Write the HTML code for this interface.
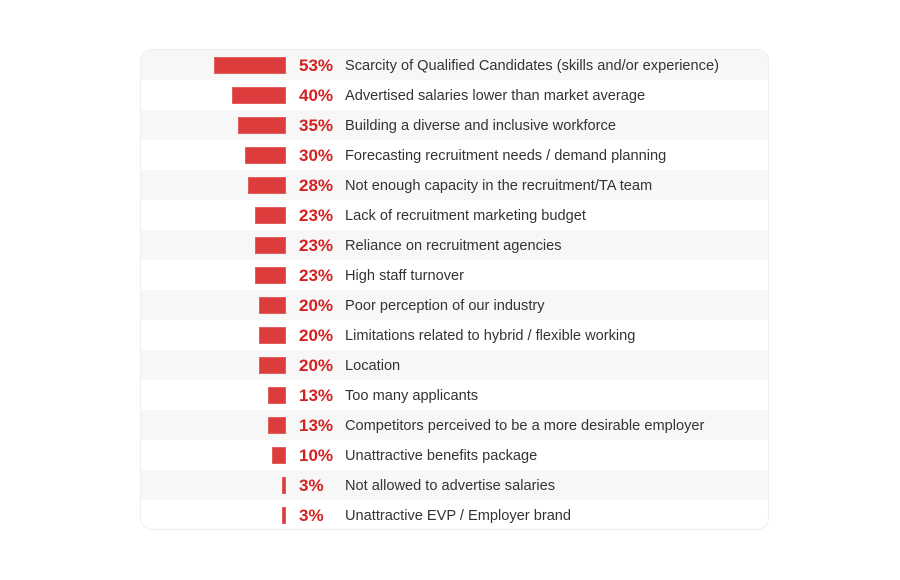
<!DOCTYPE html>
<html><head><style>
body{margin:0;background:#fff;width:900px;height:580px;position:relative;font-family:"Liberation Sans",sans-serif}
.card{position:absolute;left:140px;top:49px;width:629px;height:481px;border:1px solid #eee;border-radius:12px;overflow:hidden;box-sizing:border-box}
.row{position:absolute;left:0;width:100%;height:30px}
.row.g{background:#f7f7f7}
.bar{position:absolute;right:482px;top:7px;height:17px;background:#dc3c3c;border:1px solid #e06060;box-sizing:border-box}
.pct{position:absolute;left:158px;top:6px;font-size:17px;font-weight:bold;color:#d42020}
.lab{position:absolute;left:204px;top:8px;font-size:14.6px;color:#333}
</style></head><body>
<div class="card" id="c"></div>
<script>
var d=[[53,"Scarcity of Qualified Candidates (skills and/or experience)"],[40,"Advertised salaries lower than market average"],[35,"Building a diverse and inclusive workforce"],[30,"Forecasting recruitment needs / demand planning"],[28,"Not enough capacity in the recruitment/TA team"],[23,"Lack of recruitment marketing budget"],[23,"Reliance on recruitment agencies"],[23,"High staff turnover"],[20,"Poor perception of our industry"],[20,"Limitations related to hybrid / flexible working"],[20,"Location"],[13,"Too many applicants"],[13,"Competitors perceived to be a more desirable employer"],[10,"Unattractive benefits package"],[3,"Not allowed to advertise salaries"],[3,"Unattractive EVP / Employer brand"]];
var h="";d.forEach(function(r,i){h+='<div class="row'+(i%2==0?' g':'')+'" style="top:'+(i*30)+'px"><div class="bar" style="width:'+Math.max(4,Math.round(r[0]*1.36))+'px"></div><div class="pct">'+r[0]+'%</div><div class="lab">'+r[1]+'</div></div>';});
document.getElementById("c").innerHTML=h;
</script>
</body></html>
